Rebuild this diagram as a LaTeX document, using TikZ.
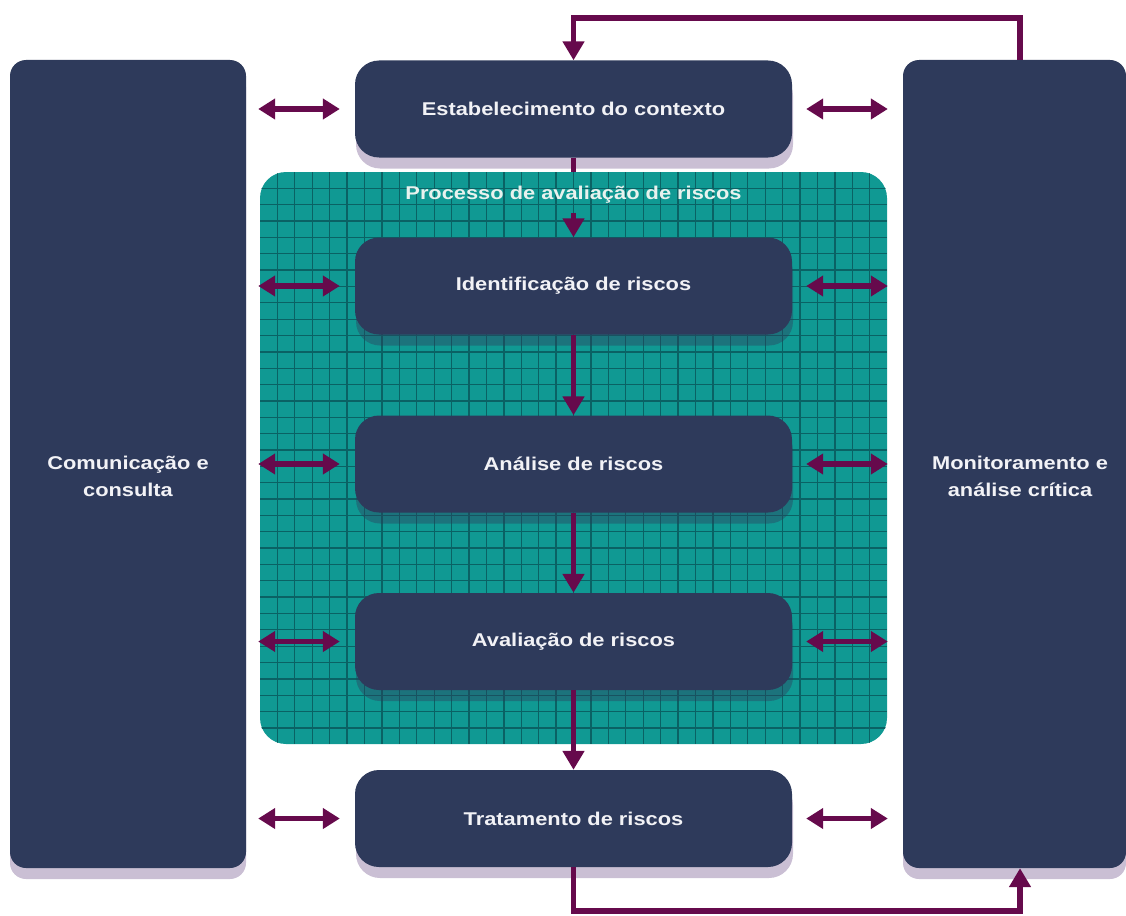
\documentclass[tikz,border=0pt]{standalone}
\usepackage{fontspec}
\setmainfont{Liberation Sans}
\newfontfamily\lblfont[FakeStretch=1.18]{Liberation Sans}
\usetikzlibrary{arrows.meta,shadows}
\definecolor{navy}{RGB}{46,58,91}
\definecolor{tealbg}{RGB}{16,153,147}
\definecolor{tealline}{RGB}{10,98,100}
\definecolor{plum}{RGB}{102,10,76}
\definecolor{shadowlt}{RGB}{202,191,212}
\definecolor{titlec}{RGB}{232,242,238}
\definecolor{boxtext}{RGB}{242,242,246}
\tikzset{
  lbltxt/.style={font=\lblfont\fontsize{18.5}{27}\selectfont\bfseries, text=boxtext},
  sidebox/.style={fill=navy, rounded corners=16pt, minimum height=808pt, inner sep=0pt,
     drop shadow={shadow xshift=0pt, shadow yshift=-11pt, fill=shadowlt, opacity=1}},
  boxbase/.style={fill=navy, rounded corners=24pt, minimum width=437pt, minimum height=97pt,
     inner sep=0pt, lbltxt},
  stagebox/.style={boxbase,
     drop shadow={shadow xshift=1pt, shadow yshift=-11pt, fill=shadowlt, opacity=1}},
  innerbox/.style={boxbase,
     drop shadow={shadow xshift=1pt, shadow yshift=-11pt, fill=navy, opacity=0.4}},
  procbox/.style={fill=tealbg, rounded corners=26pt, minimum width=627pt, minimum height=572pt, inner sep=0pt},
  gridline/.style={draw=tealline, line width=1.3pt},
  flow/.style={draw=plum, line width=5.5pt},
  flowarrow/.style={flow, -{Triangle[length=19pt,width=21pt]}},
  dblarrow/.style={flow, {Triangle[length=17pt,width=20pt]}-{Triangle[length=17pt,width=20pt]}},
}
\begin{document}
\begin{tikzpicture}[x=1pt,y=-1pt]
\useasboundingbox (0,0) rectangle (1126,915);
% process region
\node[procbox] (proc) at (573.5,458) {};
\begin{scope}
  \clip[rounded corners=26pt] (proc.north west) rectangle (proc.south east);
  \foreach \i in {1,...,35} \draw[gridline] (260+\i*17.42,172) -- ++(0,572);
  \foreach \j in {1,...,34} \draw[gridline] (260,172+\j*16.35) -- ++(627,0);
\end{scope}
\node[font=\lblfont\fontsize{18.5}{21}\selectfont\bfseries, text=titlec, inner xsep=0pt, inner ysep=9pt] (ptitle) at (573.5,195) {Processo de avaliação de riscos};
% side boxes
\node[sidebox, minimum width=236pt] (ctx) at (128,464) {};
\node[sidebox, minimum width=223pt] (mon) at (1014.5,464) {};
\node[lbltxt, align=center] (ctxlbl) at (128,476) {Comunicação e\\consulta};
\node[lbltxt, align=center] (monlbl) at (1020,476) {Monitoramento e\\análise crítica};
% stage boxes
\node[stagebox] (est) at (573.5,109) {Estabelecimento do contexto};
\node[innerbox] (ident) at (573.5,286) {Identificação de riscos};
\node[innerbox] (anal) at (573.5,464) {Análise de riscos};
\node[innerbox] (aval) at (573.5,641.5) {Avaliação de riscos};
\node[stagebox] (trat) at (573.5,818.5) {Tratamento de riscos};
% main flow
\draw[flow] (est.south) -- (proc.north);
\draw[flowarrow] (ptitle.south) -- (ident.north);
\draw[flowarrow] (ident.south) -- (anal.north);
\draw[flowarrow] (anal.south) -- (aval.north);
\draw[flowarrow] (aval.south) -- (trat.north);
% feedback loops
\draw[flowarrow] ([xshift=5.5pt]mon.north) -- ++(0,-42) -| (est.north);
\draw[flowarrow] (trat.south) -- ++(0,44) -| ([xshift=5.5pt]mon.south);
% double arrows
\foreach \b in {est,ident,anal,aval,trat}{
  \draw[dblarrow, shorten <=12pt, shorten >=15pt] (ctx.east |- \b.west) -- (\b.west);
  \draw[dblarrow, shorten <=14pt, shorten >=15pt] (\b.east) -- (mon.west |- \b.east);
}
\end{tikzpicture}
\end{document}
